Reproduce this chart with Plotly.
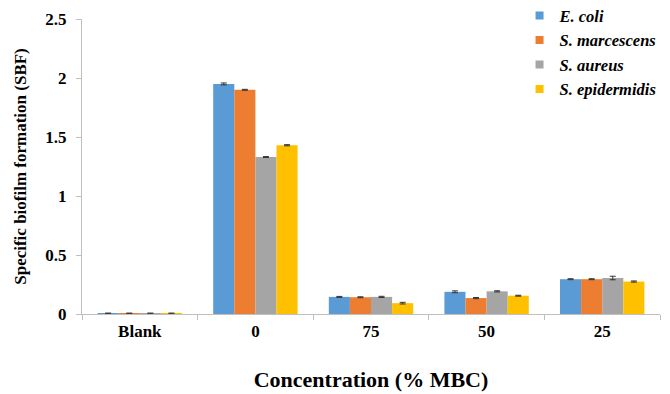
import plotly.graph_objects as go

# Biofilm formation by concentration, one series per organism
categories = ["Blank", "0", "75", "50", "25"]
species = ["E. coli", "S. marcescens", "S. aureus", "S. epidermidis"]
colors = ["#5B9BD5", "#ED7D31", "#A5A5A5", "#FFC000"]

ecoli = [0.005, 1.95, 0.145, 0.188, 0.295]
smarcescens = [0.005, 1.90, 0.142, 0.135, 0.295]
saureus = [0.005, 1.33, 0.145, 0.192, 0.305]
sepidermidis = [0.005, 1.43, 0.092, 0.155, 0.275]

ecoli_err = [0.003, 0.008, 0.004, 0.008, 0.004]
smarcescens_err = [0.003, 0.004, 0.004, 0.005, 0.004]
saureus_err = [0.003, 0.004, 0.005, 0.005, 0.015]
sepidermidis_err = [0.003, 0.005, 0.007, 0.004, 0.005]

series = [ecoli, smarcescens, saureus, sepidermidis]
errors = [ecoli_err, smarcescens_err, saureus_err, sepidermidis_err]

serif = "Times New Roman"

fig = go.Figure()
for name, vals, errs, col in zip(species, series, errors, colors):
    # bars (legend entry drawn by a marker-only companion trace)
    fig.add_trace(go.Bar(
        x=categories, y=vals, name=name, showlegend=False,
        marker=dict(color=col, line=dict(width=0)),
        error_y=dict(type="data", array=errs, visible=True,
                     color="#333333", thickness=1, width=3),
    ))
    fig.add_trace(go.Scatter(
        x=[None], y=[None], mode="markers", name=f"<b><i>{name}</i></b>",
        marker=dict(symbol="square", size=8, color=col),
    ))

fig.update_layout(
    width=670, height=394,
    margin=dict(l=82, r=10, t=19, b=80, autoexpand=False),
    paper_bgcolor="white", plot_bgcolor="white",
    barmode="group", bargap=0.27, bargroupgap=0,
    font=dict(family=serif, color="#000000"),
    legend=dict(x=0.757, xanchor="left", y=1.07, yanchor="top",
                font=dict(family=serif, size=16.5, color="#000000"),
                bgcolor="rgba(0,0,0,0)", tracegroupgap=0,
                itemwidth=30),
    showlegend=True,
)

fig.update_xaxes(
    type="category", showline=True, linecolor="#BFBFBF", linewidth=1,
    ticks="outside", tickson="boundaries", ticklen=5, tickcolor="#BFBFBF",
    tickfont=dict(family=serif, size=17, color="#000000", weight="bold"),
    ticklabelstandoff=2,
    showgrid=False, zeroline=False,
    title=dict(text="<b>Concentration (% MBC)</b>",
               font=dict(family=serif, size=22, color="#000000"), standoff=31),
)
fig.update_yaxes(
    range=[0, 2.5], dtick=0.5, tickformat="~g",
    showline=True, linecolor="#BFBFBF", linewidth=1,
    ticks="outside", ticklen=5, tickcolor="#BFBFBF",
    tickfont=dict(family=serif, size=17, color="#000000", weight="bold"),
    ticklabelstandoff=6,
    showgrid=False, zeroline=False,
    title=dict(text="<b>Specific biofilm formation (SBF)</b>",
               font=dict(family=serif, size=17, color="#000000"), standoff=14),
)

fig.write_html("out.html")
